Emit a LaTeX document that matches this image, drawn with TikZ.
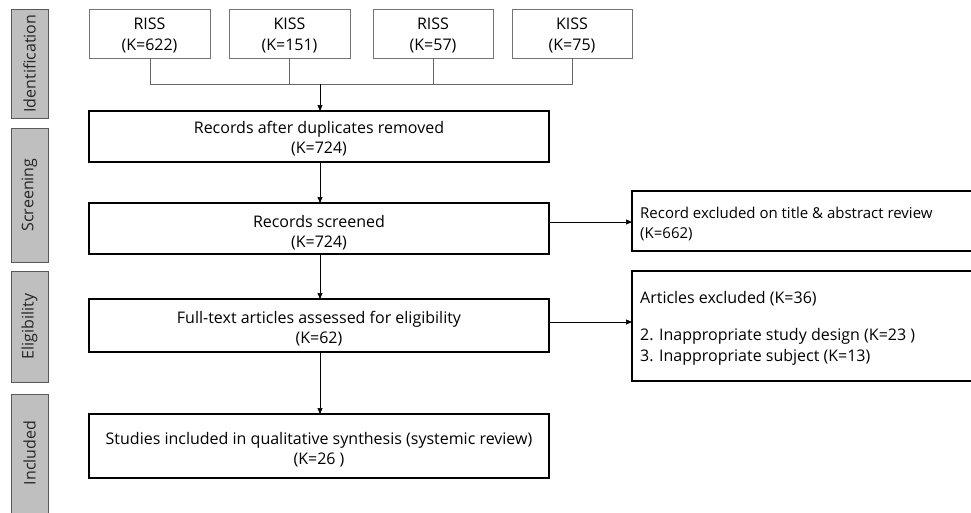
\documentclass[tikz,border=0pt]{standalone}
\usepackage{fontspec}
\setmainfont{Open Sans}
\usetikzlibrary{arrows.meta}
\begin{document}
\begin{tikzpicture}[x=1pt,y=-1pt,
  every node/.style={font=\fontsize{16}{20.5}\selectfont, inner sep=0pt},
  phase/.style={draw=black!65, fill=black!25, line width=0.8pt},
  srcbox/.style={draw=black!55, line width=0.8pt},
  mainbox/.style={draw=black, line width=1.1pt},
  arr/.style={draw=black, line width=0.7pt, -{Triangle[length=6pt,width=5pt]}},
  gline/.style={draw=black!60, line width=0.8pt}]
\useasboundingbox (0,0) rectangle (971,512);
% phase labels
\draw[phase] (11,9) rectangle (48,118);
\node[rotate=90, text=black!85] (pid) at (29.5,63.5) {Identification};
\draw[phase] (11,128) rectangle (48,262);
\node[rotate=90, text=black!85] (psc) at (29.5,195) {Screening};
\draw[phase] (11,271) rectangle (48,382);
\node[rotate=90, text=black!85] (pel) at (29.5,326.5) {Eligibility};
\draw[phase] (11,394) rectangle (48,514);
\node[rotate=90, text=black!85] (pin) at (29.5,453) {Included};
% source boxes
\draw[srcbox] (89,9) rectangle (210,58);
\node[align=center] (s1) at (149.5,35.5) {RISS\\(K=622)};
\draw[srcbox] (229,9) rectangle (350,58);
\node[align=center] (s2) at (289.5,35.5) {KISS\\(K=151)};
\draw[srcbox] (373,9) rectangle (493,58);
\node[align=center] (s3) at (433,35.5) {RISS\\(K=57)};
\draw[srcbox] (512,9) rectangle (632,58);
\node[align=center] (s4) at (572,35.5) {KISS\\(K=75)};
\coordinate (b1) at (150,58);
\coordinate (b2) at (289,58);
\coordinate (b3) at (433,58);
\coordinate (b4) at (572,58);
\coordinate (j1) at (150,84);
\coordinate (j4) at (572,84);
\coordinate (jm) at (320,84);
\draw[gline] (b1) -- (j1) -- (j4) -- (b4);
\draw[gline] (b2) -- (289,84);
\draw[gline] (b3) -- (433,84);
% main boxes
\draw[mainbox] (89,111) rectangle (549,162);
\node[align=center] (dup) at (319,138.5) {Records after duplicates removed\\(K=724)};
\draw[mainbox] (89,203) rectangle (549,254);
\node[align=center] (scr) at (319,232.5) {Records screened\\(K=724)};
\draw[mainbox] (89,299) rectangle (549,352);
\node[align=center] (ful) at (319,328.5) {Full-text articles assessed for eligibility\\(K=62)};
\draw[mainbox] (89,414) rectangle (549,478);
\node[align=center] (inc) at (319,449.5) {Studies included in qualitative synthesis (systemic review)\\(K=26 )};
% exclusion boxes
\draw[mainbox] (980,191) -- (632,191) -- (632,251) -- (980,251);
\node[anchor=west, align=left, font=\fontsize{15}{20}\selectfont] (ex1) at (640,223.5) {Record excluded on title \& abstract review\\(K=662)};
\draw[mainbox] (980,271) -- (632,271) -- (632,381) -- (980,381);
\node[anchor=west] (ex2a) at (640,299) {Articles excluded (K=36)};
\node[anchor=west] (ex2b) at (640,336) {2. Inappropriate study design (K=23 )};
\node[anchor=west] (ex2c) at (640,357) {3. Inappropriate subject (K=13)};
% arrows
\draw[arr] (jm) -- (320,111);
\draw[arr] (320,162) -- (320,203);
\draw[arr] (320,254) -- (320,299);
\draw[arr] (320,352) -- (320,414);
\draw[arr] (549,222) -- (632,222);
\draw[arr] (549,322) -- (632,322);
\end{tikzpicture}
\end{document}
